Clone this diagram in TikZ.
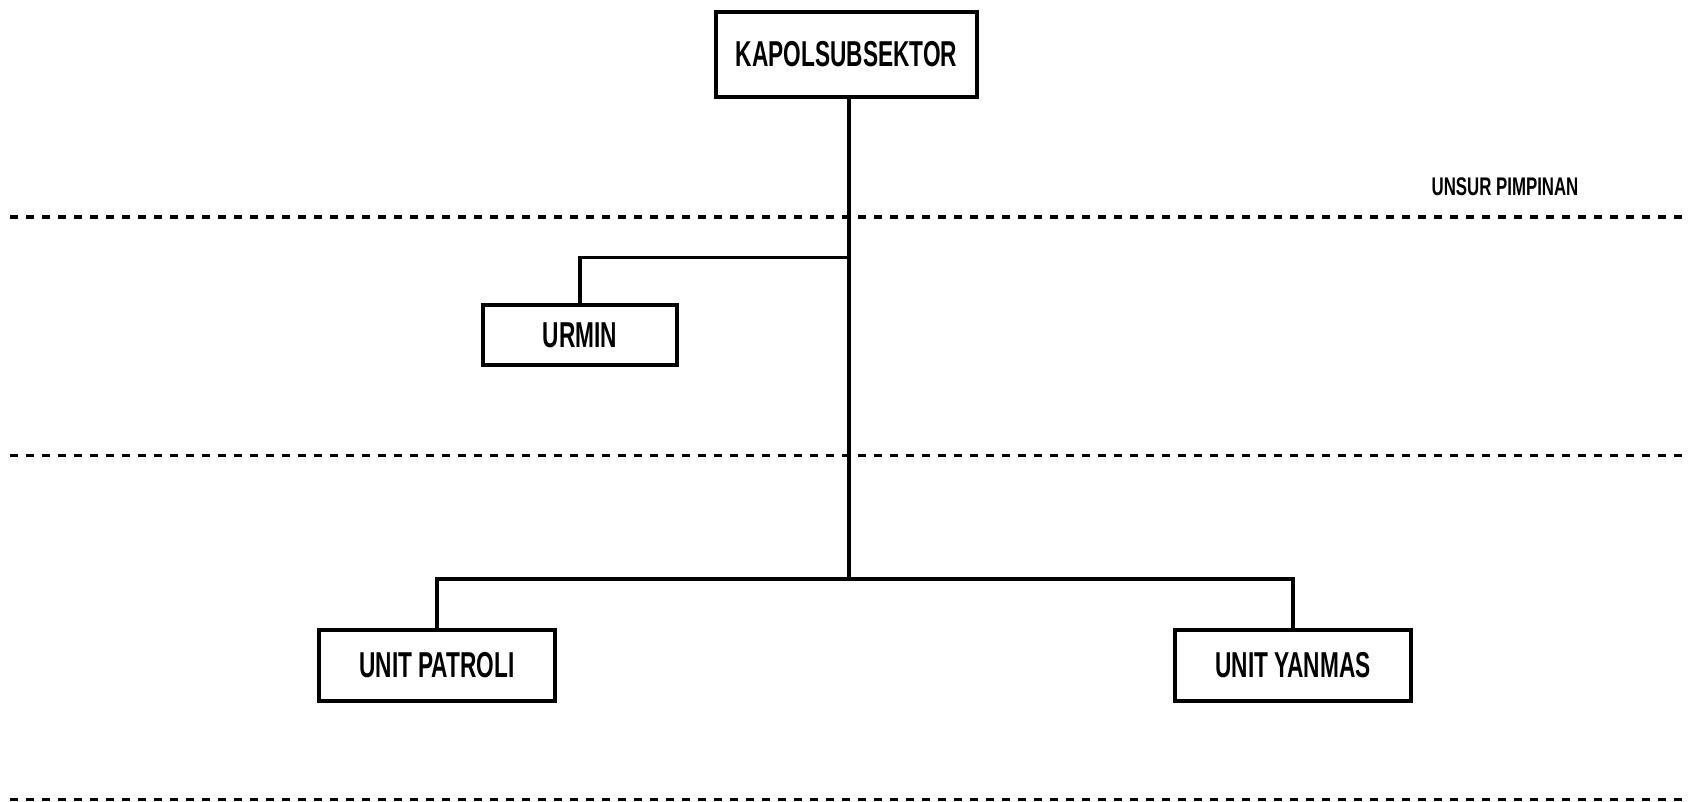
\documentclass[tikz,border=0pt]{standalone}
\usepackage{fontspec}
\newfontfamily\lblfont{Liberation Sans}[FakeStretch=0.63]
\newfontfamily\smallfont{Liberation Sans}[FakeStretch=0.66]
\begin{document}
\begin{tikzpicture}[x=1pt,y=-1pt,
  box/.style={draw=black, line width=4pt, fill=white, inner sep=0pt,
    font=\lblfont\bfseries\fontsize{36}{40}\selectfont, text=black},
  conn/.style={draw=black, line width=3.6pt},
  sep/.style={draw=black, line width=3.2pt, dash pattern=on 8pt off 8pt}]
\useasboundingbox (0,0) rectangle (1689,802);
% separators
\draw[sep] (10,217) -- (1684,217);
\draw[sep] (10,455.5) -- (1684,455.5);
\draw[sep] (10,799.5) -- (1684,799.5);
\node[font=\smallfont\bfseries\fontsize{25.5}{30}\selectfont] (unsur) at (1505,187) {UNSUR PIMPINAN};
% boxes
\node[box, minimum width=261pt, minimum height=85pt] (kapol) at (846.5,54.5) {KAPOLSUBSEKTOR};
\node[box, minimum width=194pt, minimum height=60pt] (urmin) at (580,335) {URMIN};
\node[box, minimum width=236pt, minimum height=71pt] (patroli) at (437,665.5) {UNIT PATROLI};
\node[box, minimum width=236pt, minimum height=71pt] (yanmas) at (1293,665.5) {UNIT YANMAS};
% junctions
\coordinate (jurmin) at (849,257.5);
\coordinate (jbottom) at (849,579);
\draw[conn] (kapol.south -| jurmin) -- (jbottom);
\draw[conn] (jurmin) -| (urmin.north);
\draw[conn, line width=4.2pt] (patroli.north) |- (jbottom -| patroli.north) -- (jbottom -| yanmas.north) -- (yanmas.north);
\end{tikzpicture}
\end{document}
